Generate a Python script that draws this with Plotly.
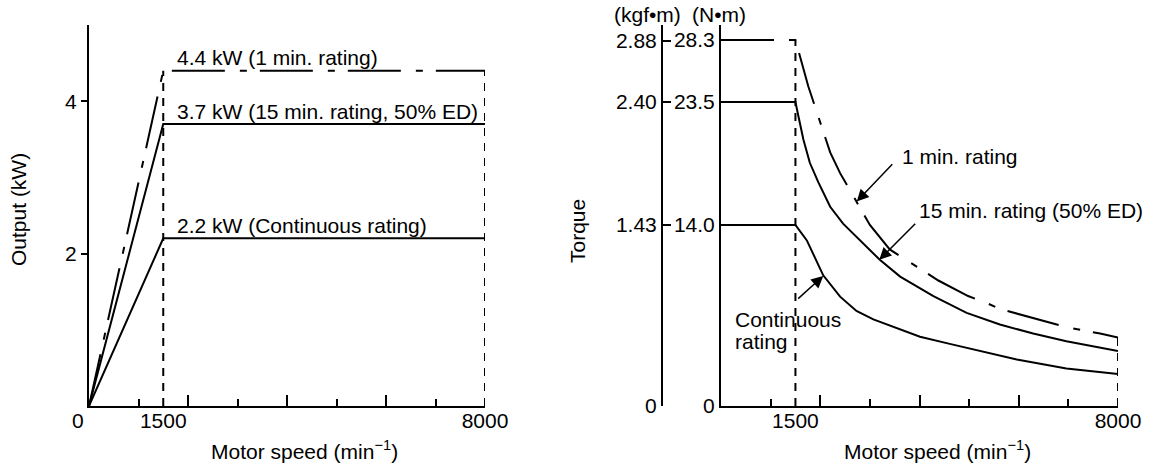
import plotly.graph_objects as go

# Output vs speed (left chart)
OUT_SPEED = [0, 1500, 8000]
OUT_CONT = [0, 2.2, 2.2]
OUT_15MIN = [0, 3.7, 3.7]
OUT_1MIN = [0, 4.4, 4.4]
OUT_LABELS = ["4.4 kW (1 min. rating)", "3.7 kW (15 min. rating, 50% ED)", "2.2 kW (Continuous rating)"]
OUT_LABEL_Y = [4.57, 3.87, 2.37]

# Torque vs speed (right chart), N·m
T1_SPEED = [0, 1500, 1760, 1960, 2200, 2400, 2550, 2730, 3000, 3400, 3770, 4380, 4980, 5390, 5620, 6290, 6960, 7640, 8000]
T1_TORQUE = [28.3, 28.3, 24.7, 22.4, 19.6, 18.0, 17.0, 15.8, 14.0, 12.1, 11.2, 9.7, 8.5, 7.9, 7.5, 6.8, 6.1, 5.6, 5.3]
T15_SPEED = [0, 1500, 1560, 1660, 1790, 1960, 2200, 2460, 3200, 3610, 4280, 4950, 5620, 6290, 6960, 7640, 8000]
T15_TORQUE = [23.5, 23.5, 22.4, 20.6, 18.8, 17.3, 15.4, 14.1, 11.3, 10.0, 8.5, 7.2, 6.3, 5.6, 5.0, 4.5, 4.25]
TC_SPEED = [0, 1500, 1730, 2060, 2400, 2730, 3070, 3540, 4010, 4610, 5290, 5960, 6960, 7640, 8000]
TC_TORQUE = [14.0, 14.0, 12.8, 10.1, 8.45, 7.35, 6.7, 6.0, 5.35, 4.8, 4.2, 3.6, 2.9, 2.6, 2.47]

NM_TICKS = [0, 14.0, 23.5, 28.3]
NM_TICKTEXT = ["0", "14.0", "23.5", "28.3"]
KGF_TICKS = [0, 1.43, 2.40, 2.88]
KGF_TICKTEXT = ["0", "1.43", "2.40", "2.88"]
KGF_PER_NM = 1 / 9.80665

SPEED_LABEL_TICKS = [1500, 8000]
MAJOR_TICKS = [2000, 4000, 6000]
MINOR_TICKS = [1000, 3000, 5000, 7000]

# arrows: (tip speed, tip torque, tail speed, tail torque)
ARROWS = [(2735, 15.8, 3480, 18.8), (3190, 11.3, 3944, 14.2), (2061, 10.05, 1525, 8.2)]
RIGHT_LABELS = ["1 min. rating", "15 min. rating (50% ED)", "Continuous", "rating"]
RIGHT_LABEL_POS = [(3607, 19.27), (3955, 15.09), (236, 6.72), (236, 5.02)]

W, H = 1160, 466
FONT = "Liberation Sans, Arial, sans-serif"
FS = 21
LW = 2
DASHDOT = "53px,15px,7px,13px"
DASHED = "8px,7px"

fig = go.Figure()

def line(x, y, xa, ya, dash="solid", width=LW):
    fig.add_trace(go.Scatter(x=x, y=y, xaxis=xa, yaxis=ya, mode="lines",
                             line=dict(color="black", width=width, dash=dash),
                             showlegend=False, hoverinfo="skip"))

# left chart
line([OUT_SPEED[1]] * 2, [0, max(OUT_1MIN)], "x", "y", DASHED)
line([OUT_SPEED[-1]] * 2, [0, max(OUT_1MIN)], "x", "y", DASHED)
line(OUT_SPEED, OUT_CONT, "x", "y")
line(OUT_SPEED, OUT_15MIN, "x", "y")
line(OUT_SPEED, OUT_1MIN, "x", "y", DASHDOT)

# right chart
line([T1_SPEED[1]] * 2, [0, T1_TORQUE[1]], "x2", "y2", DASHED)
line([T1_SPEED[-1]] * 2, [0, T1_TORQUE[-1]], "x2", "y2", DASHED)
line(TC_SPEED, TC_TORQUE, "x2", "y2")
line(T15_SPEED, T15_TORQUE, "x2", "y2")
line(T1_SPEED, T1_TORQUE, "x2", "y2", DASHDOT)

# dummy traces so the overlay axes get drawn
for xa, ya in [("x3", "y"), ("x4", "y2"), ("x2", "y3")]:
    fig.add_trace(go.Scatter(x=[None], y=[None], xaxis=xa, yaxis=ya, showlegend=False))

ydom = [(H - 406) / H, (H - 25) / H]
ldom = [89 / W, 485 / W]
rdom = [721 / W, 1118 / W]
nm_max = 29.45

base_x = dict(range=[0, 8000], showgrid=False, zeroline=False, showline=True, linecolor="black",
              linewidth=LW, ticks="inside", tickvals=MAJOR_TICKS, ticklen=11, tickwidth=LW,
              tickcolor="black", showticklabels=False, automargin=False,
              minor=dict(tickvals=MINOR_TICKS, ticks="inside", ticklen=7, tickwidth=LW,
                         tickcolor="black", showgrid=False))
label_x = dict(range=[0, 8000], showgrid=False, zeroline=False, showline=False, ticks="",
               automargin=False, tickvals=SPEED_LABEL_TICKS,
               ticktext=[str(v) for v in SPEED_LABEL_TICKS])

fig.update_layout(
    width=W, height=H, margin=dict(l=0, r=0, t=0, b=0),
    paper_bgcolor="white", plot_bgcolor="white",
    font=dict(family=FONT, size=FS, color="black"),
    xaxis=dict(domain=ldom, anchor="y", **base_x),
    xaxis2=dict(domain=rdom, anchor="y2", **base_x),
    xaxis3=dict(overlaying="x", anchor="y", **label_x),
    xaxis4=dict(overlaying="x2", anchor="y2", **label_x),
    yaxis=dict(domain=ydom, anchor="x", range=[0, 5], showgrid=False, zeroline=False,
               showline=True, linecolor="black", linewidth=LW, ticks="outside",
               tickvals=[2, 4], ticklen=6, tickwidth=LW, tickcolor="black", automargin=False),
    yaxis2=dict(domain=ydom, anchor="x2", range=[0, nm_max], showgrid=False, zeroline=False,
                showline=True, linecolor="black", linewidth=LW, ticks="", automargin=False,
                tickvals=NM_TICKS, ticktext=NM_TICKTEXT),
    yaxis3=dict(overlaying="y2", anchor="free", position=662 / W, side="left",
                range=[0, nm_max * KGF_PER_NM], showgrid=False, zeroline=False,
                showline=True, linecolor="black", linewidth=LW, ticks="inside",
                tickvals=KGF_TICKS, ticktext=KGF_TICKTEXT, ticklen=8, tickwidth=LW,
                tickcolor="black", automargin=False),
)

ann = []
for txt, yv in zip(OUT_LABELS, OUT_LABEL_Y):
    ann.append(dict(x=1740, y=yv, xref="x", yref="y", text=txt, showarrow=False,
                    xanchor="left", yanchor="middle"))
ann.append(dict(x=0, y=0, xref="x", yref="y", text="0", showarrow=False,
                xanchor="right", yanchor="top", xshift=-3, yshift=-1))
for txt, (xv, yv) in zip(RIGHT_LABELS, RIGHT_LABEL_POS):
    ann.append(dict(x=xv, y=yv, xref="x2", yref="y2", text=txt, showarrow=False,
                    xanchor="left", yanchor="middle"))
for tx, ty, ax, ay in ARROWS:
    ann.append(dict(x=tx, y=ty, ax=ax, ay=ay, xref="x2", yref="y2", axref="x2", ayref="y2",
                    text="", showarrow=True, arrowhead=2, arrowsize=1.6, arrowwidth=1.5,
                    arrowcolor="black"))

title = "Motor speed (min<sup>−1</sup>)"
for cx, cy, txt, ang in [(304, 450, title, 0), (937, 450, title, 0),
                         (18, 210, "Output (kW)", -90), (577, 231, "Torque", -90),
                         (647, 14, "(kgf•m)", 0), (719, 14, "(N•m)", 0)]:
    ann.append(dict(x=cx / W, y=(H - cy) / H, xref="paper", yref="paper", text=txt,
                    showarrow=False, textangle=ang, xanchor="center", yanchor="middle"))

fig.update_layout(annotations=ann)
fig.write_html("out.html", config={"displayModeBar": False},
               post_script="document.body.style.margin='0';")
